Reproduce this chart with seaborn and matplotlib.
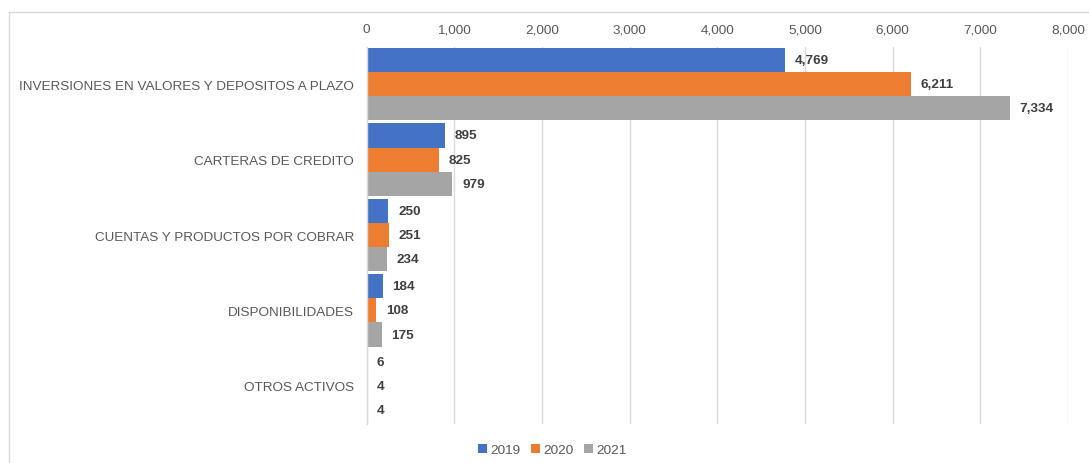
import matplotlib
matplotlib.use("Agg")
import matplotlib.pyplot as plt
import seaborn as sns
import pandas as pd
from matplotlib.patches import Rectangle

categories = [
    "INVERSIONES EN VALORES Y DEPOSITOS A PLAZO",
    "CARTERAS DE CREDITO",
    "CUENTAS Y PRODUCTOS POR COBRAR",
    "DISPONIBILIDADES",
    "OTROS ACTIVOS",
]
years = ["2019", "2020", "2021"]
values_2019 = [4769, 895, 250, 184, 6]
values_2020 = [6211, 825, 251, 108, 4]
values_2021 = [7334, 979, 234, 175, 4]
x_ticks = [0, 1000, 2000, 3000, 4000, 5000, 6000, 7000, 8000]

colors = ["#4472C4", "#ED7D31", "#A5A5A5"]
text_gray = "#595959"

rows = []
for year, vals in zip(years, [values_2019, values_2020, values_2021]):
    for cat, v in zip(categories, vals):
        rows.append({"categoria": cat, "anio": year, "valor": v})
df = pd.DataFrame(rows)

sns.set_theme(style="white")
plt.rcParams["font.family"] = ["Liberation Sans", "DejaVu Sans"]

fig = plt.figure(figsize=(10.89, 4.64), dpi=100)
ax = fig.add_axes([0.3366, 0.0851, 0.6441, 0.8125])

sns.barplot(
    data=df, y="categoria", x="valor", hue="anio",
    order=categories, hue_order=years, palette=colors,
    orient="h", width=0.96, saturation=1, linewidth=0, ax=ax, legend=True,
)

for container in ax.containers:
    ax.bar_label(container, labels=[f"{v:,.0f}" for v in container.datavalues],
                 padding=7, fontsize=9.7, fontweight="bold", color="#404040")

ax.set_xlim(0, 8000)
ax.set_xticks(x_ticks)
ax.set_xticklabels([f"{t:,}" for t in x_ticks])
ax.xaxis.tick_top()
ax.tick_params(axis="x", length=0, pad=8, labelsize=9.7, labelcolor=text_gray)
ax.tick_params(axis="y", length=0, pad=9, labelsize=9.7, labelcolor=text_gray)
ax.set_xlabel("")
ax.set_ylabel("")
ax.grid(axis="x", color="#D9D9D9", linewidth=1)
ax.set_axisbelow(True)
for side in ["top", "right", "bottom"]:
    ax.spines[side].set_visible(False)
ax.spines["left"].set_color("#D9D9D9")
ax.spines["left"].set_linewidth(1)

handles, labels = ax.get_legend_handles_labels()
ax.legend(handles, labels, loc="center", bbox_to_anchor=(552 / 1089, 1 - 451 / 464),
          bbox_transform=fig.transFigure, ncol=3, frameon=False,
          handlelength=0.7, handleheight=0.7, handletextpad=0.2, columnspacing=0.8,
          fontsize=9.7, labelcolor=text_gray)

# chart area border
fig.patches.append(Rectangle((9 / 1089, -0.1), 1.2, 1 - 13 / 464 + 0.1,
                             transform=fig.transFigure, fill=False,
                             edgecolor="#D9D9D9", linewidth=1))

fig.savefig("out.png", dpi=100)
